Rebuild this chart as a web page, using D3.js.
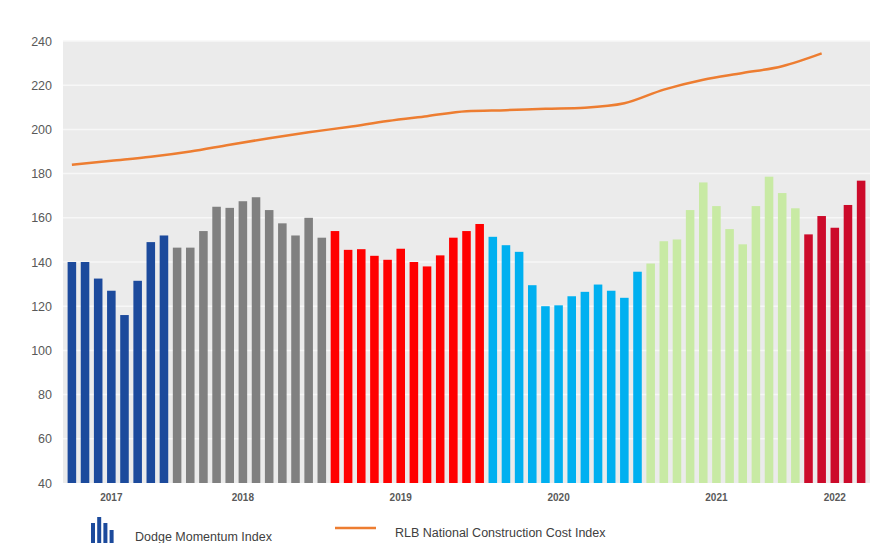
<!DOCTYPE html>
<html>
<head>
<meta charset="utf-8">
<script src="https://cdn.jsdelivr.net/npm/d3@7"></script>
<style>
    body { margin: 0; background: #fff; }
    svg { display: block; font-family: "Liberation Sans", Arial, sans-serif; }
</style>
</head>
<body>
<svg class="main" width="878" height="543"></svg>
<script>
// Dodge Momentum Index, monthly (May 2017 - May 2022)
var years = ["2017", "2018", "2019", "2020", "2021", "2022"],
    yearColors = ["#1c4a9c", "#808080", "#ff0000", "#00b0f0", "#c8eaa4", "#cc0a2a"],
    dmi2017 = [140, 140, 132.5, 127, 116, 131.5, 149, 152],
    dmi2018 = [146.5, 146.5, 154, 165, 164.5, 167.5, 169.3, 163.5, 157.5, 152, 160, 151],
    dmi2019 = [154, 145.5, 145.8, 142.8, 141, 146, 140, 138, 143, 151, 154, 157.2],
    dmi2020 = [151.4, 147.6, 144.6, 129.5, 120, 120.4, 124.5, 126.5, 129.8, 127, 123.8, 135.6],
    dmi2021 = [139.3, 149.4, 150.2, 163.5, 176, 165.3, 154.9, 148, 165.3, 178.6, 171.2, 164.3],
    dmi2022 = [152.5, 160.8, 155.5, 165.8, 176.8];

var dmiByYear = [dmi2017, dmi2018, dmi2019, dmi2020, dmi2021, dmi2022],
    firstMonth = [5, 1, 1, 1, 1, 1];

// RLB National Construction Cost Index, quarterly
var rlbDates = ["2017-05", "2017-08", "2017-11", "2018-02", "2018-05", "2018-08", "2018-11",
        "2019-02", "2019-05", "2019-08", "2019-11", "2020-02", "2020-05", "2020-08", "2020-11",
        "2021-02", "2021-05", "2021-08", "2021-11", "2022-02"],
    rlbValues = [184, 185.8, 187.6, 190, 193.1, 196, 198.7, 201.1, 203.8, 206,
        208.2, 208.7, 209.3, 209.8, 211.8, 218, 222.5, 225.5, 228.6, 234.4];

var yTicks = [40, 60, 80, 100, 120, 140, 160, 180, 200, 220, 240];

var layout = {
    left: 63,
    right: 870,
    top: 41,
    bottom: 483
};

var months = [];
dmiByYear.forEach(function(vals, yi) {
    vals.forEach(function(v, i) {
        var m = firstMonth[yi] + i;
        months.push({
            key: years[yi] + "-" + (m < 10 ? "0" : "") + m,
            value: v,
            yearIndex: yi,
            i: i
        });
    });
});

var main = d3.select(".main");

var x = d3.scaleBand()
    .domain(months.map(function(d) { return d.key; }))
    .range([layout.left, layout.right])
    .padding(0.35);

var y = d3.scaleLinear()
    .domain([40, 240])
    .range([layout.bottom, layout.top]);

/**
 * Plot background and grid
 */
main.append("rect")
    .attr("x", layout.left)
    .attr("y", layout.top)
    .attr("width", layout.right - layout.left)
    .attr("height", layout.bottom - layout.top)
    .attr("fill", "#ebebeb");

main.append("g")
    .selectAll("line")
    .data(yTicks.slice(1))
    .enter()
    .append("line")
    .attr("x1", layout.left)
    .attr("x2", layout.right)
    .attr("y1", function(d) { return y(d); })
    .attr("y2", function(d) { return y(d); })
    .attr("stroke", "#f7f7f7")
    .attr("stroke-width", 1.5);

var yAxis = main.append("g")
    .attr("transform", "translate(" + (layout.left - 11) + ",0)")
    .call(d3.axisLeft(y).tickValues(yTicks).tickSize(0).tickPadding(0));

yAxis.select(".domain").remove();
yAxis.selectAll("text")
    .attr("fill", "#595959")
    .style("font-size", "12.5px");

/**
 * Bars
 */
main.append("g")
    .selectAll("rect")
    .data(months)
    .enter()
    .append("rect")
    .attr("x", function(d) { return x(d.key); })
    .attr("width", x.bandwidth())
    .attr("y", function(d) { return y(d.value); })
    .attr("height", function(d) { return y(40) - y(d.value); })
    .attr("fill", function(d) { return yearColors[d.yearIndex]; });

/**
 * Year labels, under the middle bar of each group
 */
main.append("g")
    .selectAll("text")
    .data(years)
    .enter()
    .append("text")
    .attr("x", function(d, yi) {
        var group = months.filter(function(m) { return m.yearIndex === yi; });
        var mid = group[Math.floor((group.length - 1) / 2)];
        return x(mid.key) + x.bandwidth() / 2;
    })
    .attr("y", 501)
    .attr("text-anchor", "middle")
    .attr("fill", "#595959")
    .style("font-size", "10px")
    .style("font-weight", "bold")
    .text(function(d) { return d; });

/**
 * RLB line
 */
var line = d3.line()
    .x(function(d) { return x(d.date) + x.bandwidth() / 2; })
    .y(function(d) { return y(d.value); })
    .curve(d3.curveMonotoneX);

var rlb = rlbDates.map(function(d, i) {
    return { date: d, value: rlbValues[i] };
});

main.append("path")
    .datum(rlb)
    .attr("d", line)
    .attr("fill", "none")
    .attr("stroke", "#ed7d31")
    .attr("stroke-width", 2.5);

/**
 * Legend
 */
var legend = main.append("g");

var iconHeights = [20, 26, 20, 13];

legend.selectAll("rect")
    .data(iconHeights)
    .enter()
    .append("rect")
    .attr("x", function(d, i) { return 91 + i * 6.2; })
    .attr("y", function(d) { return 543 - d; })
    .attr("width", 4)
    .attr("height", function(d) { return d; })
    .attr("fill", "#1c4a9c");

legend.append("text")
    .attr("x", 135)
    .attr("y", 541)
    .attr("fill", "#404040")
    .style("font-size", "12.5px")
    .text("Dodge Momentum Index");

legend.append("line")
    .attr("x1", 335)
    .attr("x2", 376)
    .attr("y1", 528)
    .attr("y2", 528)
    .attr("stroke", "#ed7d31")
    .attr("stroke-width", 2.5);

legend.append("text")
    .attr("x", 395)
    .attr("y", 537)
    .attr("fill", "#404040")
    .style("font-size", "12.5px")
    .text("RLB National Construction Cost Index");
</script>
</body>
</html>
